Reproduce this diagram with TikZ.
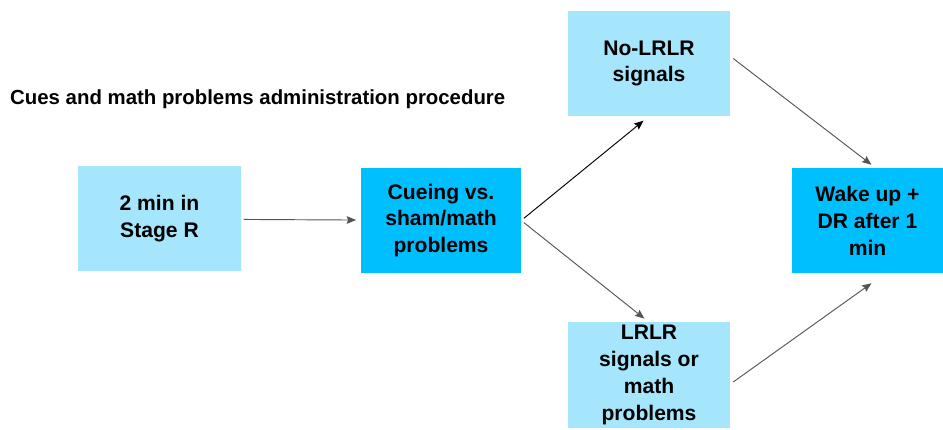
\documentclass[tikz,border=0pt]{standalone}
\usepackage{fontspec}
\setmainfont{Liberation Sans}
\usetikzlibrary{arrows.meta}

\definecolor{paleblue}{RGB}{166,230,252}
\definecolor{skyblue}{RGB}{0,191,255}
\definecolor{arrowgray}{RGB}{85,85,85}

\tikzset{
  stagebox/.style={fill=paleblue, minimum width=4.86cm, minimum height=3.15cm,
    align=center, inner sep=0pt, font=\fontsize{18}{23}\selectfont\bfseries},
  keybox/.style={stagebox, fill=skyblue},
  arr/.style={-{Stealth[length=8pt,width=6.5pt,inset=1.2pt]}, line width=0.8pt, arrowgray}
}

\begin{document}
\begin{tikzpicture}[x=0.03cm, y=-0.03cm]

\useasboundingbox (0,0) rectangle (943,430);

% Title
\node[anchor=west, inner sep=0pt, font=\fontsize{17.4}{20}\selectfont\bfseries] (title) at (10,99)
  {Cues and math problems administration procedure};

% Boxes
\node[stagebox] (stage) at (159.5,219) {2 min in\\Stage R};
\node[keybox, minimum width=4.8cm] (cue) at (441,220.5) {Cueing vs.\\sham/math\\problems};
\node[stagebox] (nolr) at (649,63.5) {No-LRLR\\signals};
\node[stagebox] (lrlr) at (649,375) {LRLR\\signals or\\math\\problems};
\node[keybox, minimum width=4.53cm] (wake) at (867.5,220.5) {Wake up +\\DR after 1\\min};

% Arrows
\draw[arr, shorten <=2.5pt, shorten >=4pt] (stage) -- (cue);
\draw[arr, black, shorten <=3pt, shorten >=6pt] (cue.east) -- (nolr.south);
\draw[arr, shorten <=3pt, shorten >=5pt] (cue.east) -- (lrlr.north);
\draw[arr] ([shift={(3,-5)}]nolr.east) -- ([shift={(4,-3)}]wake.north);
\draw[arr] ([shift={(3,7)}]lrlr.east) -- ([shift={(4,10)}]wake.south);

\end{tikzpicture}
\end{document}
